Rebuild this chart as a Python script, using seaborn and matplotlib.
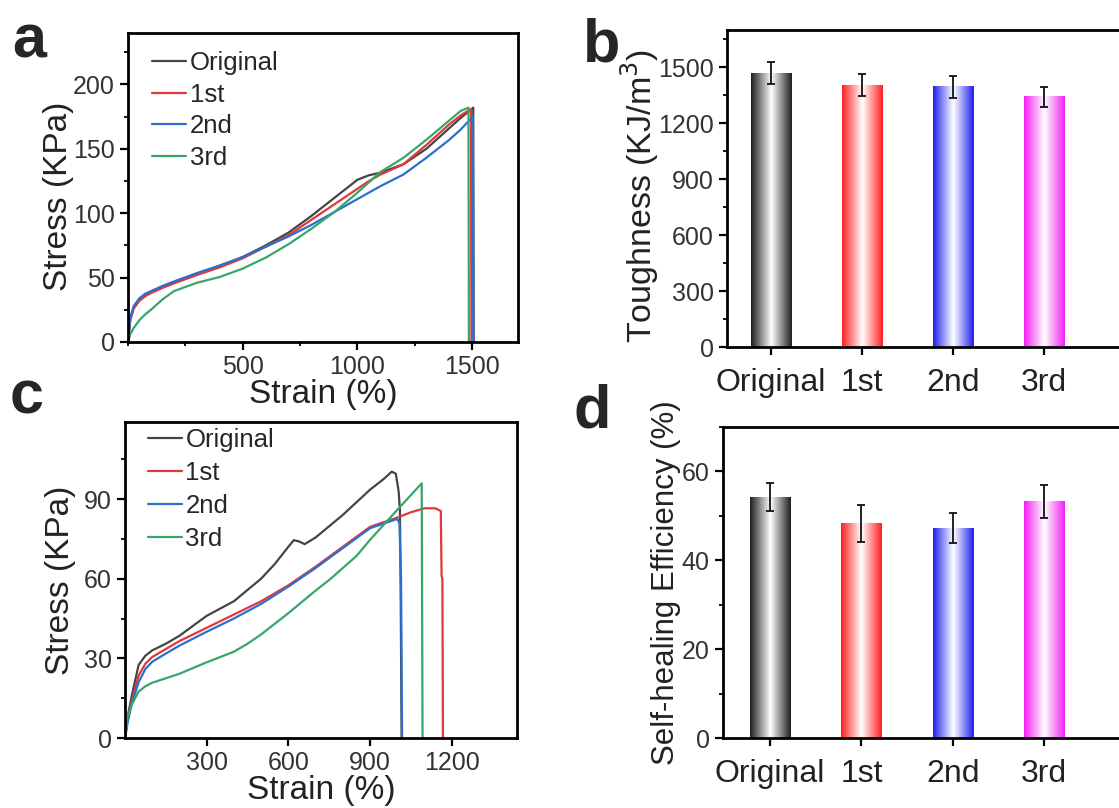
import numpy as np
import pandas as pd
import seaborn as sns
import matplotlib.pyplot as plt
from matplotlib.colors import LinearSegmentedColormap
from matplotlib.ticker import MultipleLocator

sns.set_style('ticks')
plt.rcParams['font.family'] = ['Liberation Sans', 'DejaVu Sans']

groups = ['Original', '1st', '2nd', '3rd']
line_colors = ['#454545', '#e0383c', '#2c6fd1', '#36a66a']
bar_colors = ['#1e1e1e', '#ff1f1f', '#1f1ff2', '#f21ff2']

# panel a: stress-strain curves
a_orig_x = [0, 10, 25, 50, 75, 100, 150, 200, 300, 400, 500, 600, 700, 800, 900, 1000, 1050, 1100, 1200, 1300, 1400, 1450, 1505, 1507]
a_orig_y = [0, 18, 27, 33, 36.5, 38.5, 42.5, 46, 53, 59, 66, 75, 85, 98, 112, 126, 129.5, 131.5, 138, 150, 166, 174, 182, 0]
a_1st_x = [0, 10, 25, 50, 75, 100, 150, 200, 300, 400, 500, 600, 700, 800, 900, 1000, 1050, 1100, 1200, 1300, 1400, 1450, 1495, 1497]
a_1st_y = [0, 17, 26, 32, 35.5, 38, 42, 45.5, 52, 58, 65, 74, 83, 95, 107, 119, 125, 130, 138, 153, 169, 176, 181, 0]
a_2nd_x = [0, 10, 25, 50, 75, 100, 150, 200, 300, 400, 500, 600, 700, 800, 900, 1000, 1050, 1100, 1200, 1300, 1400, 1450, 1503, 1505]
a_2nd_y = [0, 19, 28, 34, 37.5, 39.5, 43.5, 47, 53.5, 59.5, 66, 74, 82, 91, 101, 111, 116, 121, 130, 143, 157, 165, 175, 0]
a_3rd_x = [0, 10, 25, 50, 75, 100, 150, 200, 300, 400, 500, 600, 700, 800, 900, 1000, 1050, 1100, 1200, 1300, 1400, 1450, 1484, 1486]
a_3rd_y = [0, 6, 11, 17, 21.5, 25, 33, 39.5, 46, 50.5, 57, 65.5, 76, 88, 101, 116, 124, 132, 143, 157, 172, 179.5, 182, 0]

# panel b: toughness
tough = [1468, 1404, 1395, 1341]
tough_err = [59, 58, 60, 55]

# panel c: stress-strain curves
c_orig_x = [0, 10, 25, 50, 75, 100, 150, 200, 300, 400, 500, 550, 600, 620, 640, 660, 700, 800, 900, 950, 980, 995, 1005, 1010, 1013, 1016]
c_orig_y = [0, 8, 16, 27.5, 31, 33, 35.5, 38.5, 46, 51.5, 60, 65.5, 72, 74.5, 74, 73, 75.5, 84, 93.5, 97.5, 100.3, 99.5, 93, 86, 50, 0]
c_1st_x = [0, 10, 25, 50, 75, 100, 150, 200, 300, 400, 500, 600, 700, 800, 900, 1000, 1050, 1100, 1140, 1160, 1163, 1166, 1168]
c_1st_y = [0, 7, 14, 23.5, 28, 30.5, 33.5, 36.5, 41.5, 46.5, 51.5, 57.5, 64.5, 72, 79.5, 83, 85, 86.5, 86.5, 85.5, 61, 60, 0]
c_2nd_x = [0, 10, 25, 50, 75, 100, 150, 200, 300, 400, 500, 600, 700, 800, 900, 1000, 1008, 1014, 1018]
c_2nd_y = [0, 6, 13, 21, 26, 28.7, 31.8, 34.8, 40, 45, 50.5, 57, 64, 71.5, 79, 82.5, 81, 60, 0]
c_3rd_x = [0, 10, 25, 50, 75, 100, 150, 200, 300, 400, 450, 500, 600, 700, 750, 800, 850, 900, 1000, 1090, 1093]
c_3rd_y = [0, 8, 12.5, 17.5, 19.5, 20.8, 22.5, 24.2, 28.5, 32.5, 35.5, 39, 47, 55.5, 59.5, 64, 68.5, 74.6, 85.9, 95.9, 0]

# panel d: self-healing efficiency
heal = [54.2, 48.3, 47.2, 53.2]
heal_err = [3.2, 4.1, 3.4, 3.7]


def curves_frame(xs, ys):
    parts = []
    for g, x, y in zip(groups, xs, ys):
        parts.append(pd.DataFrame({'strain': x, 'stress': y, 'run': g}))
    return pd.concat(parts, ignore_index=True)


def style_axes(ax, lw=2.0, labelsize=18):
    for s in ax.spines.values():
        s.set_linewidth(lw)
        s.set_color('black')
    ax.tick_params(which='major', direction='out', length=6, width=1.6, colors='black',
                   labelcolor='#333333', labelsize=labelsize)
    ax.tick_params(which='minor', direction='out', length=3, width=1.3, colors='black')


def curve_panel(ax, df, xlim, ylim, xticks, xminor, yticks, yminor, legend_anchor, spacing):
    sns.lineplot(data=df, x='strain', y='stress', hue='run', palette=line_colors,
                 units='run', estimator=None, sort=False, lw=1.6, ax=ax)
    ax.set_xlim(*xlim)
    ax.set_ylim(*ylim)
    ax.set_xticks(xticks)
    ax.set_yticks(yticks)
    if xminor:
        ax.xaxis.set_minor_locator(MultipleLocator(xminor))
    ax.yaxis.set_minor_locator(MultipleLocator(yminor))
    style_axes(ax)
    ax.set_xlabel('Strain (%)', fontsize=24, color='#222222', labelpad=0)
    ax.set_ylabel('Stress (KPa)', fontsize=24, color='#222222')
    handles, labels = ax.get_legend_handles_labels()
    ax.legend(handles, labels, loc='upper left', bbox_to_anchor=legend_anchor, frameon=False,
              fontsize=18.5, handlelength=1.3, handletextpad=0.15, labelspacing=spacing,
              borderaxespad=0)


def bar_panel(ax, vals, errs, xlim, ylim, ymaj, ymin):
    bdf = pd.DataFrame({'group': groups, 'value': vals})
    sns.barplot(data=bdf, x='group', y='value', hue='group', palette=bar_colors,
                width=0.44, legend=False, ax=ax)
    # shaded "cylinder" fill: colour at the edges, white in the middle
    for patch, c in zip(ax.patches, bar_colors):
        x0, y0 = patch.get_x(), patch.get_y()
        w, h = patch.get_width(), patch.get_height()
        cmap = LinearSegmentedColormap.from_list('shade', [c, 'white', c])
        grad = np.linspace(0, 1, 256).reshape(1, -1)
        ax.imshow(grad, cmap=cmap, aspect='auto', extent=[x0, x0 + w, y0, y0 + h], zorder=2)
        patch.set_facecolor('none')
        patch.set_edgecolor('none')
    ax.errorbar(np.arange(len(vals)), vals, yerr=errs, fmt='none', ecolor='#111111',
                elinewidth=1.3, capsize=2.8, capthick=1.3, zorder=3)
    ax.set_xlim(*xlim)
    ax.set_ylim(*ylim)
    ax.yaxis.set_major_locator(MultipleLocator(ymaj))
    ax.yaxis.set_minor_locator(MultipleLocator(ymin))
    style_axes(ax)
    ax.spines['right'].set_visible(False)
    ax.tick_params(axis='x', which='major', labelsize=23, labelcolor='#222222', pad=9)
    ax.tick_params(axis='x', which='minor', length=0)
    ax.set_xlabel('')


fig = plt.figure(figsize=(11.19, 8.08), dpi=100)

W, H = 1119, 808


def box(l, t, r, b):
    return [l / W, 1 - b / H, (r - l) / W, (b - t) / H]


ax_a = fig.add_axes(box(128, 33, 518, 342))
curve_panel(ax_a, curves_frame([a_orig_x, a_1st_x, a_2nd_x, a_3rd_x],
                               [a_orig_y, a_1st_y, a_2nd_y, a_3rd_y]),
            (0, 1700), (0, 240), [500, 1000, 1500], 250, [0, 50, 100, 150, 200], 25,
            (0.036, 0.975), 0.3)
ax_a.yaxis.set_label_coords(-0.139, 0.47)

ax_b = fig.add_axes(box(727, 30, 1133, 347))
bar_panel(ax_b, tough, tough_err, (-0.48, 3.98), (0, 1700), 300, 150)
ax_b.set_ylabel('Toughness (KJ/m$^3$)', fontsize=24.5, color='#222222')
ax_b.yaxis.set_label_coords(-0.162, 0.475)

ax_c = fig.add_axes(box(125, 422, 517, 738))
curve_panel(ax_c, curves_frame([c_orig_x, c_1st_x, c_2nd_x, c_3rd_x],
                               [c_orig_y, c_1st_y, c_2nd_y, c_3rd_y]),
            (0, 1440), (0, 119), [300, 600, 900, 1200], None, [0, 30, 60, 90], 15,
            (0.033, 1.015), 0.36)
ax_c.yaxis.set_label_coords(-0.124, 0.5)

ax_d = fig.add_axes(box(723, 427, 1133, 738))
bar_panel(ax_d, heal, heal_err, (-0.515, 3.97), (0, 70), 20, 10)
ax_d.set_ylabel('Self-healing Efficiency (%)', fontsize=22.5, color='#222222')
ax_d.yaxis.set_label_coords(-0.103, 0.5)

for letter, x, y in [('a', 12, 58), ('b', 583, 62), ('c', 10, 413), ('d', 573, 428)]:
    fig.text(x / W, 1 - y / H, letter, fontsize=44, fontweight='bold', va='baseline', ha='left')

fig.savefig('out.png', dpi=100)
